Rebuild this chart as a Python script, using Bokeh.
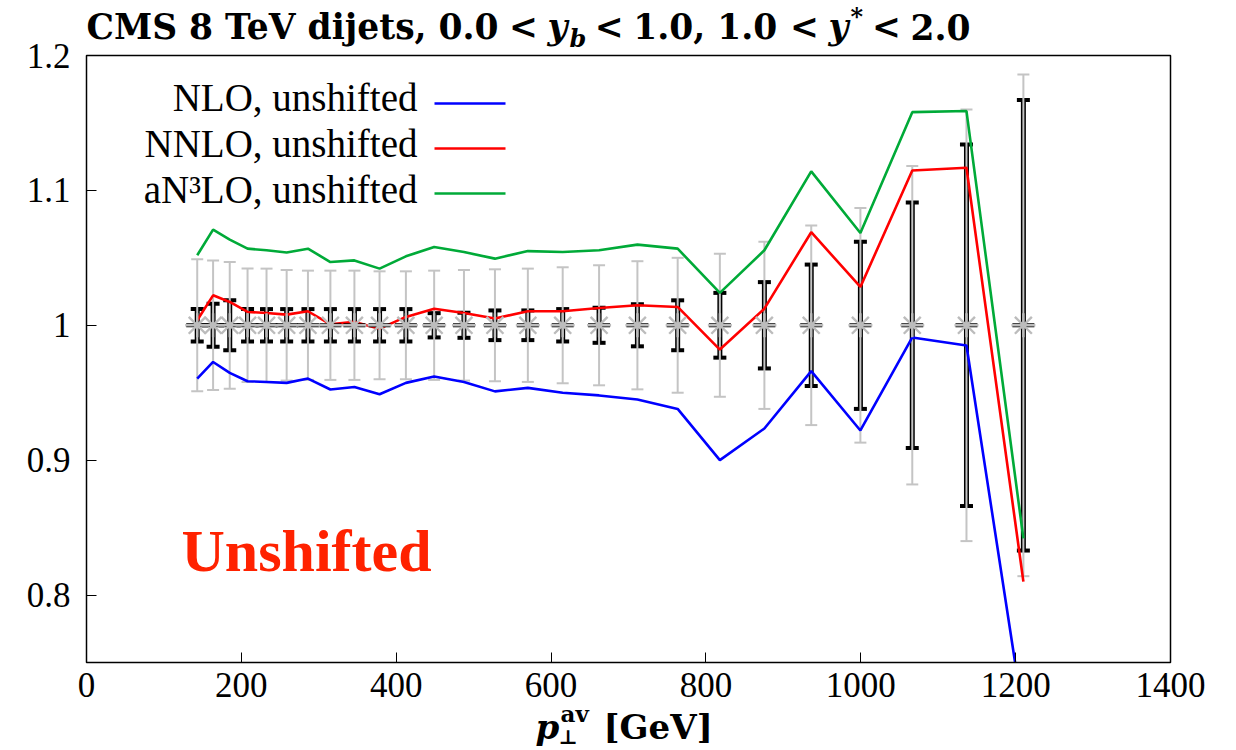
from bokeh.plotting import figure
from bokeh.models import (ColumnDataSource, Whisker, TeeHead, Label, FixedTicker,
                          CustomJSTickFormatter, Range1d, BoxAnnotation)
from bokeh.embed import file_html
from bokeh.resources import INLINE

# ---------------- data ----------------
pt_av = [143, 163.5, 185, 208, 232.5, 258.5, 286, 315, 346, 378.5, 412.5, 449,
         487.5, 527.5, 570, 615, 662, 711.5, 763.5, 818, 875.5, 936, 999.5,
         1066.5, 1136.5, 1210]
data_ratio = [1.0] * 26
nlo = [0.9605, 0.9728, 0.9647, 0.9585, 0.9580, 0.9573, 0.9605, 0.9524, 0.9543,
       0.9489, 0.9573, 0.9620, 0.9580, 0.9510, 0.9536, 0.9500, 0.9480, 0.9450,
       0.9380, 0.9000, 0.9235, 0.9660, 0.9220, 0.9910, 0.9850, 0.7100]
nnlo = [1.0037, 1.0222, 1.0173, 1.0099, 1.0091, 1.0079, 1.0104, 1.0007, 1.0025,
        0.9975, 1.0062, 1.0123, 1.0091, 1.0050, 1.0104, 1.0104, 1.0128, 1.0148,
        1.0136, 0.9820, 1.0123, 1.0690, 1.0284, 1.1148, 1.1168, 0.8100]
an3lo = [1.0519, 1.0709, 1.0635, 1.0568, 1.0556, 1.0539, 1.0568, 1.0469, 1.0481,
         1.0420, 1.0511, 1.0580, 1.0543, 1.0494, 1.0550, 1.0543, 1.0556, 1.0598,
         1.0568, 1.0240, 1.0556, 1.1141, 1.0684, 1.1580, 1.1588, 0.8420]
stat_err = [0.012, 0.016, 0.0185, 0.012, 0.012, 0.012, 0.012, 0.012, 0.012,
            0.012, 0.012, 0.009, 0.0093, 0.011, 0.011, 0.012, 0.013, 0.0156,
            0.0185, 0.024, 0.032, 0.045, 0.062, 0.091, 0.134, 0.167]
tot_err = [0.049, 0.048, 0.047, 0.042, 0.042, 0.041, 0.0405, 0.0405, 0.0405,
           0.040, 0.040, 0.0405, 0.041, 0.0415, 0.042, 0.043, 0.0445, 0.0475,
           0.050, 0.053, 0.062, 0.074, 0.087, 0.118, 0.160, 0.186]
x_ticks = [0, 200, 400, 600, 800, 1000, 1200, 1400]
y_ticks = [0.8, 0.9, 1.0, 1.1, 1.2]
legend_labels = ["NLO, unshifted", "NNLO, unshifted", "aN\u00b3LO, unshifted"]
line_colors = ["#0000ff", "#ff0000", "#00aa38"]

# ---------------- layout constants ----------------
W, H = 1236, 750
FL, FR, FT, FB = 86, 1170, 55, 662   # plot-box edges in canvas px
X0, X1, Y0, Y1 = 0, 1400, 0.75, 1.2  # plot-box data limits
BL = 0.33                            # baseline correction (fraction of font size)

# ranges are extended so the drawing area covers the whole canvas
kx = (X1 - X0) / (FR - FL)
ky = (Y1 - Y0) / (FB - FT)
x_range = Range1d(X0 - FL * kx, X1 + (W - FR) * kx)
y_range = Range1d(Y0 - (H - FB) * ky, Y1 + FT * ky)

def sx(cx):          # canvas x -> screen x
    return cx

def sy(cy, fs):      # canvas baseline y -> screen y (from bottom)
    return H - cy + BL * fs

def dx(cx):          # canvas x -> data x (legend swatches only)
    return X0 + (cx - FL) * kx

def dy(cy):
    return Y1 - (cy - FT) * ky

p = figure(width=W, height=H, x_range=x_range, y_range=y_range,
           output_backend="svg", toolbar_location=None, title=None,
           min_border=0, min_border_left=0, min_border_right=0,
           min_border_top=0, min_border_bottom=0)
p.background_fill_color = "white"
p.border_fill_color = "white"
p.outline_line_color = None
p.xgrid.visible = False
p.ygrid.visible = False

p.xaxis.fixed_location = Y0
p.yaxis.fixed_location = X0
for ax in (p.xaxis[0], p.yaxis[0]):
    ax.major_tick_in = 10
    ax.major_tick_out = 0
    ax.minor_tick_in = 0
    ax.minor_tick_out = 0
    ax.major_tick_line_width = 1
    ax.major_tick_line_color = "black"
    ax.axis_line_color = None
    ax.major_label_text_font = "Liberation Serif"
    ax.major_label_text_font_size = "35px"
    ax.major_label_text_color = "black"

p.xaxis.ticker = FixedTicker(ticks=x_ticks)
p.yaxis.ticker = FixedTicker(ticks=y_ticks)
p.xaxis.major_label_standoff = 10
p.yaxis.major_label_standoff = 16
p.yaxis.formatter = CustomJSTickFormatter(code="""
    const s = Math.round(tick * 10) / 10;
    return (s === 1) ? '1' : s.toFixed(1);
""")

# ---------------- error bars ----------------
src = ColumnDataSource(dict(
    x=pt_av, y=data_ratio,
    s_up=[v + e for v, e in zip(data_ratio, stat_err)],
    s_lo=[v - e for v, e in zip(data_ratio, stat_err)],
    t_up=[v + e for v, e in zip(data_ratio, tot_err)],
    t_lo=[v - e for v, e in zip(data_ratio, tot_err)],
))

stat = Whisker(base="x", upper="s_up", lower="s_lo", source=src,
               line_color="black", line_width=5,
               upper_head=TeeHead(size=13, line_color="black", line_width=4),
               lower_head=TeeHead(size=13, line_color="black", line_width=4))
tot = Whisker(base="x", upper="t_up", lower="t_lo", source=src,
              line_color="#c4c4c4", line_width=2,
              upper_head=TeeHead(size=12, line_color="#c4c4c4", line_width=2),
              lower_head=TeeHead(size=12, line_color="#c4c4c4", line_width=2))
p.add_layout(stat)
p.add_layout(tot)

# ---------------- theory curves ----------------
for series, col in zip([nlo, nnlo, an3lo], line_colors):
    p.line(pt_av, series, line_color=col, line_width=2.6)

# mask everything that falls below the lower edge of the plot box
mask = BoxAnnotation(top=Y0, fill_color="white", fill_alpha=1.0, line_color=None,
                     level="glyph")
p.renderers.append(mask)

# ---------------- data markers ----------------
p.scatter("x", "y", source=src, marker="dash", size=22, line_color="black", line_width=4)
p.scatter("x", "y", source=src, marker="asterisk", size=24, line_color="#bcbcbc", line_width=2.4)

# plot box
p.add_layout(BoxAnnotation(left=X0, right=X1, bottom=Y0, top=Y1, fill_color=None,
                           line_color="black", line_width=1.5, line_alpha=1.0))

# ---------------- legend (text left, line right) ----------------
leg_base = [110, 156, 202]
leg_line_y = [103, 148, 193]
for lab, col, by, ly in zip(legend_labels, line_colors, leg_base, leg_line_y):
    p.add_layout(Label(x=sx(417), y=sy(by, 39), x_units="screen", y_units="screen",
                       text=lab, text_font="Liberation Serif", text_font_size="39px",
                       text_align="right", text_baseline="alphabetic", text_color="black"))
    p.segment(x0=[dx(434)], y0=[dy(ly)], x1=[dx(505)], y1=[dy(ly)],
              line_color=col, line_width=2.6)

# ---------------- big red label ----------------
p.add_layout(Label(x=sx(181), y=sy(570, 60), x_units="screen", y_units="screen",
                   text="Unshifted", text_font="Liberation Serif", text_font_size="60px",
                   text_font_style="bold", text_color="#ff2200",
                   text_align="left", text_baseline="alphabetic"))

# ---------------- title pieces (chained, approximate advance widths in em) ----------------
TB = 38
TF = "DejaVu Serif"
FS = 34.5          # main title size
SS = 24            # sub/superscript size
GAP = 9.5          # math "thick" space in px
title_parts = [
    # text, style, size, baseline shift, advance (em), gap after
    ("CMS 8 TeV dijets, 0.0", "bold", FS, 0, 11.97, GAP),
    ("<", "bold", FS, 0, 0.838, GAP),
    ("y", "bold italic", FS, 0, 0.64, 0),
    ("b", "bold italic", SS, 8, 0.66, GAP),
    ("<", "bold", FS, 0, 0.838, GAP),
    ("1.0, 1.0", "bold", FS, 0, 4.272, GAP),
    ("<", "bold", FS, 0, 0.838, GAP),
    ("y", "bold italic", FS, 0, 0.64, 0),
    ("*", "bold", SS, -14, 0.5, GAP),
    ("<", "bold", FS, 0, 0.838, GAP),
    ("2.0", "bold", FS, 0, 1.772, 0),
]
cx = FL
for txt, st, fs, dyb, adv, gap in title_parts:
    p.add_layout(Label(x=sx(cx), y=sy(TB + dyb, fs), x_units="screen", y_units="screen",
                       text=txt, text_font=TF, text_font_size=f"{fs}px", text_font_style=st,
                       text_align="left", text_baseline="alphabetic", text_color="black"))
    cx += adv * fs + gap

# ---------------- x axis label pieces ----------------
XB = 738
xlab_parts = [
    ("p", 535, XB, 34, "bold italic"),
    ("av", 560, XB - 17, 23, "bold"),
    ("\u22a5", 558, XB + 5, 20, "bold"),
    ("[GeV]", 603, XB, 34, "bold"),
]
for txt, lx, ly, fs, st in xlab_parts:
    p.add_layout(Label(x=sx(lx), y=sy(ly, fs), x_units="screen", y_units="screen",
                       text=txt, text_font=TF, text_font_size=f"{fs}px", text_font_style=st,
                       text_align="left", text_baseline="alphabetic", text_color="black"))

open("out.html", "w").write(file_html(p, INLINE))
